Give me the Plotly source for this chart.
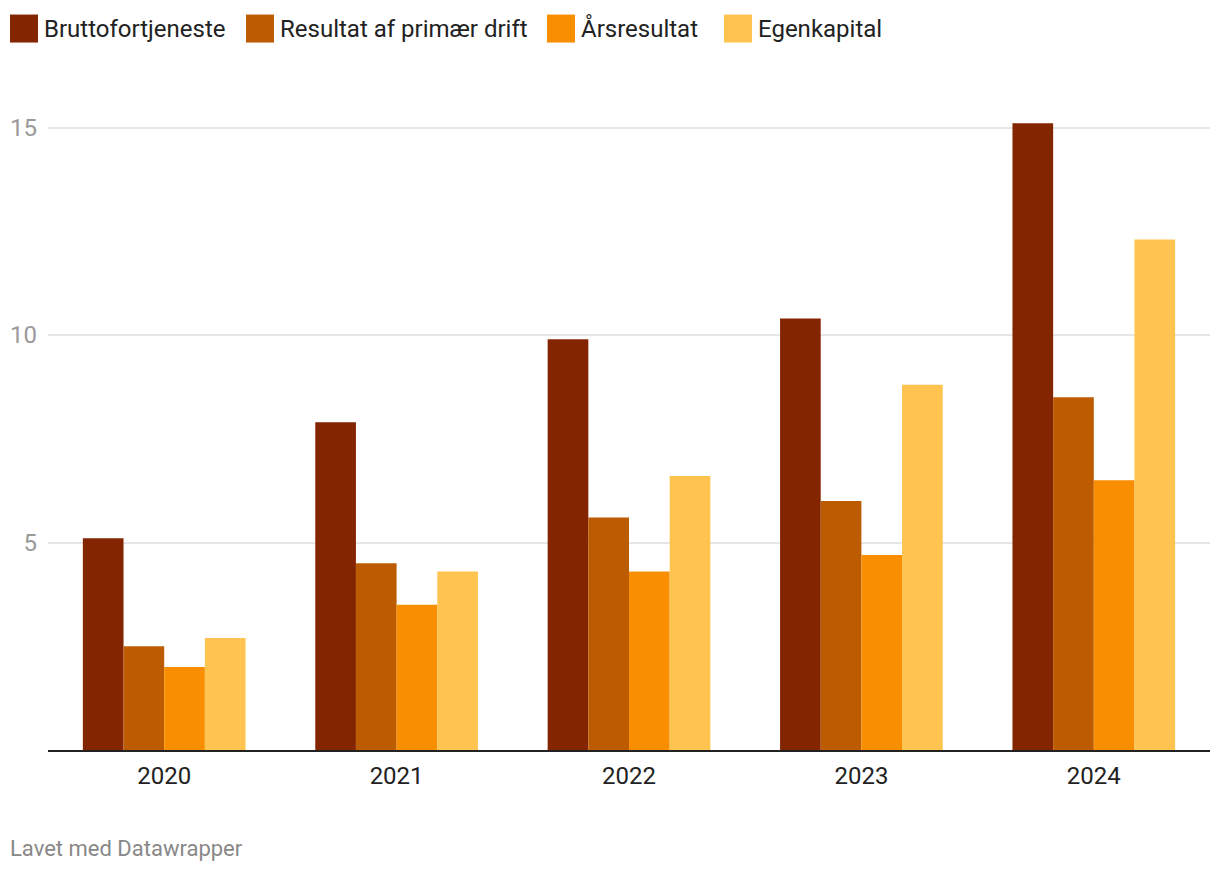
import plotly.graph_objects as go

years = ["2020", "2021", "2022", "2023", "2024"]
series_names = ["Bruttofortjeneste", "Resultat af primær drift", "Årsresultat", "Egenkapital"]
bruttofortjeneste = [5.1, 7.9, 9.9, 10.4, 15.1]
resultat_primaer = [2.5, 4.5, 5.6, 6.0, 8.5]
aarsresultat = [2.0, 3.5, 4.3, 4.7, 6.5]
egenkapital = [2.7, 4.3, 6.6, 8.8, 12.3]
y_tickvals = [5, 10, 15]
y_ticktext = ["5", "10", "15"]

colors = ["#832500", "#bd5b00", "#f98f00", "#ffc34f"]
values = [bruttofortjeneste, resultat_primaer, aarsresultat, egenkapital]

OFF = 8  # page body margin
W, H = 1220 - OFF, 872 - OFF
L, R, T, B = 48 - OFF, 10, 85.5 - OFF, 122
PW = W - L - R
PH = H - T - B

def px_x(x):
    return (x - OFF - L) / PW

def px_y(y):
    return (H - B - (y - OFF)) / PH

fig = go.Figure()
for name, vals, c in zip(series_names, values, colors):
    fig.add_trace(go.Bar(x=years, y=vals, name=name, marker=dict(color=c, line=dict(width=0)),
                         showlegend=False))

# manual legend
legend_x = [10, 246, 547, 724]
shapes = []
annotations = []
for name, c, lx in zip(series_names, colors, legend_x):
    shapes.append(dict(type="rect", xref="paper", yref="paper",
                       x0=px_x(lx), x1=px_x(lx + 28), y0=px_y(42), y1=px_y(14),
                       fillcolor=c, line=dict(width=0)))
    annotations.append(dict(text=name, xref="paper", yref="paper", x=px_x(lx + 32), y=px_y(28),
                            xanchor="left", yanchor="middle", showarrow=False,
                            font=dict(size=24, color="#222222", family="Roboto")))

annotations.append(dict(text="Lavet med Datawrapper", xref="paper", yref="paper",
                        x=px_x(8), y=px_y(849), xanchor="left", yanchor="middle", showarrow=False,
                        font=dict(size=22, color="#888888", family="Roboto")))

fig.update_layout(
    width=W, height=H,
    margin=dict(l=L, r=R, t=T, b=B, pad=0, autoexpand=False),
    paper_bgcolor="white", plot_bgcolor="white",
    barmode="group", bargap=0.3, bargroupgap=0,
    font=dict(family="Roboto", size=24, color="#222222"),
    shapes=shapes, annotations=annotations,
    xaxis=dict(showline=True, linecolor="#222222", linewidth=2, ticks="", showgrid=False,
               automargin=False,
               tickfont=dict(size=24, color="#222222"), ticklabelstandoff=3),
    yaxis=dict(range=[0, 16], tickvals=y_tickvals, ticktext=y_ticktext, showgrid=True,
               automargin=False,
               gridcolor="#e6e6e6", gridwidth=1.5, zeroline=False, ticks="",
               tickfont=dict(size=24, color="#9a9a9a"), ticklabelstandoff=10),
)

fig.write_html("out.html")
